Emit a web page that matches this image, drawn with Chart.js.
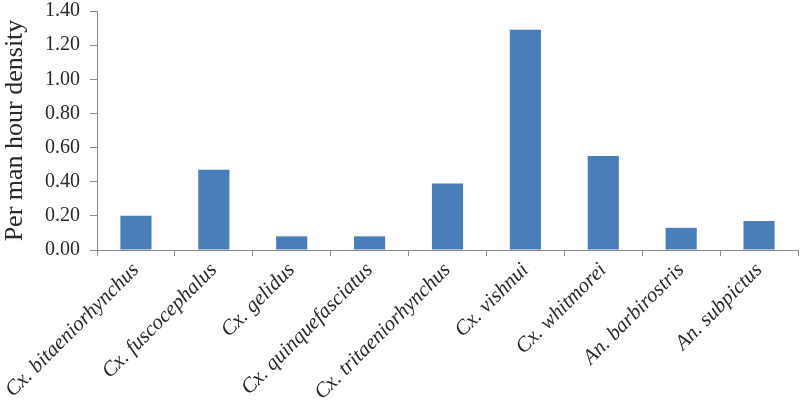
<!DOCTYPE html>
<html lang="en">
<head>
    <meta charset="UTF-8">
    <title>Per man hour density</title>
    <script src="https://cdn.jsdelivr.net/npm/chart.js"></script>
    <style>
        html, body { margin: 0; padding: 0; background: #fff; }
        .chart-container { width: 800px; height: 409px; position: relative; }
    </style>
</head>
<body>
    <div class="chart-container">
        <canvas id="densityChart"></canvas>
    </div>

    <script>
        // Data
        const species = ['Cx. bitaeniorhynchus', 'Cx. fuscocephalus', 'Cx. gelidus', 'Cx. quinquefasciatus',
            'Cx. tritaeniorhynchus', 'Cx. vishnui', 'Cx. whitmorei', 'An. barbirostris', 'An. subpictus'];
        const density = [0.20, 0.47, 0.08, 0.08, 0.39, 1.29, 0.55, 0.13, 0.17];
        const yTicks = [0, 0.2, 0.4, 0.6, 0.8, 1.0, 1.2, 1.4];

        const serif = "'Liberation Serif', 'DejaVu Serif', serif";
        const axisGrey = '#8c8c8c';
        const textColor = '#2a2a2a';

        const ctx = document.getElementById('densityChart').getContext('2d');
        const densityChart = new Chart(ctx, {
            type: 'bar',
            data: {
                labels: species,
                datasets: [{
                    label: 'Per man hour density',
                    data: density,
                    backgroundColor: '#4a7ebb',
                    borderWidth: 0,
                    barPercentage: 0.4,
                    categoryPercentage: 1.0
                }]
            },
            options: {
                responsive: true,
                maintainAspectRatio: false,
                animation: false,
                layout: { padding: { top: 0, right: 2, left: 0, bottom: 0 } },
                plugins: {
                    legend: { display: false },
                    tooltip: { enabled: false }
                },
                scales: {
                    x: {
                        grid: { drawOnChartArea: false, drawTicks: true, tickLength: 6, color: axisGrey },
                        border: { color: axisGrey, width: 1 },
                        ticks: {
                            minRotation: 45,
                            maxRotation: 45,
                            autoSkip: false,
                            color: textColor,
                            padding: 2,
                            font: { family: serif, size: 21, style: 'italic' }
                        },
                        afterFit: (scale) => { scale.height = 159; }
                    },
                    y: {
                        min: 0,
                        max: 1.4,
                        afterBuildTicks: (scale) => { scale.ticks = yTicks.map(v => ({ value: v })); },
                        grid: { drawOnChartArea: false, drawTicks: true, tickLength: 7, color: axisGrey },
                        border: { color: axisGrey, width: 1 },
                        ticks: {
                            color: textColor,
                            padding: 10,
                            font: { family: serif, size: 20 },
                            callback: (v) => Number(v).toFixed(2)
                        },
                        title: {
                            display: true,
                            text: 'Per man hour density',
                            color: textColor,
                            padding: 0,
                            font: { family: serif, size: 26 }
                        },
                        // fixed width and top so the plot area sits where the reference has it
                        afterFit: (scale) => { scale.width = 97; scale.paddingTop = 11; }
                    }
                }
            }
        });
    </script>
</body>
</html>
